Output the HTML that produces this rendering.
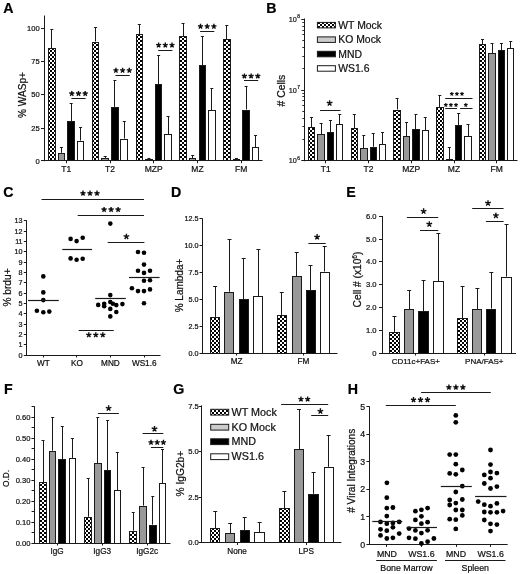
<!DOCTYPE html>
<html><head><meta charset="utf-8"><style>
html,body{margin:0;padding:0;background:#fff;}
svg{display:block;font-family:"Liberation Sans", sans-serif;will-change:transform;filter:blur(0.3px);}
</style></head><body>
<svg width="520" height="574" viewBox="0 0 520 574">
<defs>
<pattern id="chk" patternUnits="userSpaceOnUse" width="4" height="4">
<rect width="4" height="4" fill="#fff"/>
<rect width="2" height="2" fill="#000"/>
<rect x="2" y="2" width="2" height="2" fill="#000"/>
</pattern>
</defs>
<rect width="520" height="574" fill="#fff"/>
<text x="3.30" y="12.80" font-size="14.2" text-anchor="start" fill="#000" stroke="#000" stroke-width="0.22" font-weight="bold">A</text>
<line x1="44.50" y1="15.50" x2="44.50" y2="161.20" stroke="#1a1a1a" stroke-width="1"/>
<line x1="44.00" y1="160.50" x2="262.50" y2="160.50" stroke="#1a1a1a" stroke-width="1"/>
<line x1="41.00" y1="160.50" x2="44.50" y2="160.50" stroke="#1a1a1a" stroke-width="1"/>
<g transform="translate(39.80 163.60) scale(0.95 1)">
<text x="0.00" y="0.00" font-size="8.0" text-anchor="end" fill="#111" stroke="#111" stroke-width="0.22">0</text>
</g>
<line x1="41.00" y1="128.50" x2="44.50" y2="128.50" stroke="#1a1a1a" stroke-width="1"/>
<g transform="translate(39.80 130.90) scale(0.95 1)">
<text x="0.00" y="0.00" font-size="8.0" text-anchor="end" fill="#111" stroke="#111" stroke-width="0.22">25</text>
</g>
<line x1="41.00" y1="94.50" x2="44.50" y2="94.50" stroke="#1a1a1a" stroke-width="1"/>
<g transform="translate(39.80 97.40) scale(0.95 1)">
<text x="0.00" y="0.00" font-size="8.0" text-anchor="end" fill="#111" stroke="#111" stroke-width="0.22">50</text>
</g>
<line x1="41.00" y1="61.50" x2="44.50" y2="61.50" stroke="#1a1a1a" stroke-width="1"/>
<g transform="translate(39.80 63.90) scale(0.95 1)">
<text x="0.00" y="0.00" font-size="8.0" text-anchor="end" fill="#111" stroke="#111" stroke-width="0.22">75</text>
</g>
<line x1="41.00" y1="28.50" x2="44.50" y2="28.50" stroke="#1a1a1a" stroke-width="1"/>
<g transform="translate(39.80 31.10) scale(0.95 1)">
<text x="0.00" y="0.00" font-size="8.0" text-anchor="end" fill="#111" stroke="#111" stroke-width="0.22">100</text>
</g>
<text x="26.30" y="95.00" font-size="10.1" text-anchor="middle" fill="#111" stroke="#111" stroke-width="0.22" transform="rotate(-90 26.30 95.00)">% WASp+</text>
<line x1="66.50" y1="160.70" x2="66.50" y2="163.20" stroke="#1a1a1a" stroke-width="1"/>
<text x="66.25" y="172.10" font-size="8.5" text-anchor="middle" fill="#111" stroke="#111" stroke-width="0.22">T1</text>
<line x1="110.50" y1="160.70" x2="110.50" y2="163.20" stroke="#1a1a1a" stroke-width="1"/>
<text x="110.00" y="172.10" font-size="8.5" text-anchor="middle" fill="#111" stroke="#111" stroke-width="0.22">T2</text>
<line x1="153.50" y1="160.70" x2="153.50" y2="163.20" stroke="#1a1a1a" stroke-width="1"/>
<text x="153.75" y="172.10" font-size="8.5" text-anchor="middle" fill="#111" stroke="#111" stroke-width="0.22">MZP</text>
<line x1="197.50" y1="160.70" x2="197.50" y2="163.20" stroke="#1a1a1a" stroke-width="1"/>
<text x="197.50" y="172.10" font-size="8.5" text-anchor="middle" fill="#111" stroke="#111" stroke-width="0.22">MZ</text>
<line x1="241.50" y1="160.70" x2="241.50" y2="163.20" stroke="#1a1a1a" stroke-width="1"/>
<text x="241.25" y="172.10" font-size="8.5" text-anchor="middle" fill="#111" stroke="#111" stroke-width="0.22">FM</text>
<rect x="48.50" y="48.50" width="7.00" height="112.00" fill="url(#chk)" stroke="#1a1a1a" stroke-width="1"/>
<line x1="51.50" y1="48.00" x2="51.50" y2="29.50" stroke="#1a1a1a" stroke-width="1"/>
<line x1="50.30" y1="29.50" x2="53.30" y2="29.50" stroke="#1a1a1a" stroke-width="1"/>
<rect x="58.50" y="153.50" width="6.00" height="7.00" fill="#999999" stroke="#1a1a1a" stroke-width="1"/>
<line x1="61.50" y1="152.80" x2="61.50" y2="147.30" stroke="#1a1a1a" stroke-width="1"/>
<line x1="59.95" y1="147.50" x2="62.95" y2="147.50" stroke="#1a1a1a" stroke-width="1"/>
<rect x="67.50" y="121.50" width="7.00" height="39.00" fill="#000000" stroke="#1a1a1a" stroke-width="1"/>
<line x1="71.50" y1="121.40" x2="71.50" y2="103.30" stroke="#1a1a1a" stroke-width="1"/>
<line x1="69.65" y1="103.50" x2="72.65" y2="103.50" stroke="#1a1a1a" stroke-width="1"/>
<rect x="77.50" y="141.50" width="6.00" height="19.00" fill="#ffffff" stroke="#1a1a1a" stroke-width="1"/>
<line x1="80.50" y1="140.60" x2="80.50" y2="127.20" stroke="#1a1a1a" stroke-width="1"/>
<line x1="79.05" y1="127.50" x2="82.05" y2="127.50" stroke="#1a1a1a" stroke-width="1"/>
<rect x="92.50" y="42.50" width="6.00" height="118.00" fill="url(#chk)" stroke="#1a1a1a" stroke-width="1"/>
<line x1="95.50" y1="41.50" x2="95.50" y2="27.50" stroke="#1a1a1a" stroke-width="1"/>
<line x1="94.05" y1="27.50" x2="97.05" y2="27.50" stroke="#1a1a1a" stroke-width="1"/>
<rect x="101.50" y="158.50" width="7.00" height="2.00" fill="#999999" stroke="#1a1a1a" stroke-width="1"/>
<line x1="105.50" y1="158.20" x2="105.50" y2="156.10" stroke="#1a1a1a" stroke-width="1"/>
<line x1="103.70" y1="156.50" x2="106.70" y2="156.50" stroke="#1a1a1a" stroke-width="1"/>
<rect x="111.50" y="107.50" width="7.00" height="53.00" fill="#000000" stroke="#1a1a1a" stroke-width="1"/>
<line x1="114.50" y1="106.90" x2="114.50" y2="80.90" stroke="#1a1a1a" stroke-width="1"/>
<line x1="113.40" y1="80.50" x2="116.40" y2="80.50" stroke="#1a1a1a" stroke-width="1"/>
<rect x="120.50" y="139.50" width="7.00" height="21.00" fill="#ffffff" stroke="#1a1a1a" stroke-width="1"/>
<line x1="124.50" y1="138.60" x2="124.50" y2="121.40" stroke="#1a1a1a" stroke-width="1"/>
<line x1="122.80" y1="121.50" x2="125.80" y2="121.50" stroke="#1a1a1a" stroke-width="1"/>
<rect x="136.50" y="34.50" width="6.00" height="126.00" fill="url(#chk)" stroke="#1a1a1a" stroke-width="1"/>
<line x1="139.50" y1="34.50" x2="139.50" y2="24.00" stroke="#1a1a1a" stroke-width="1"/>
<line x1="137.80" y1="24.50" x2="140.80" y2="24.50" stroke="#1a1a1a" stroke-width="1"/>
<rect x="145.50" y="159.50" width="7.00" height="1.00" fill="#999999" stroke="#1a1a1a" stroke-width="1"/>
<line x1="148.50" y1="159.40" x2="148.50" y2="158.30" stroke="#1a1a1a" stroke-width="1"/>
<line x1="147.45" y1="158.50" x2="150.45" y2="158.50" stroke="#1a1a1a" stroke-width="1"/>
<rect x="155.50" y="84.50" width="6.00" height="76.00" fill="#000000" stroke="#1a1a1a" stroke-width="1"/>
<line x1="158.50" y1="84.00" x2="158.50" y2="55.00" stroke="#1a1a1a" stroke-width="1"/>
<line x1="157.15" y1="55.50" x2="160.15" y2="55.50" stroke="#1a1a1a" stroke-width="1"/>
<rect x="164.50" y="134.50" width="7.00" height="26.00" fill="#ffffff" stroke="#1a1a1a" stroke-width="1"/>
<line x1="168.50" y1="134.00" x2="168.50" y2="116.00" stroke="#1a1a1a" stroke-width="1"/>
<line x1="166.55" y1="116.50" x2="169.55" y2="116.50" stroke="#1a1a1a" stroke-width="1"/>
<rect x="179.50" y="36.50" width="7.00" height="124.00" fill="url(#chk)" stroke="#1a1a1a" stroke-width="1"/>
<line x1="183.50" y1="36.00" x2="183.50" y2="23.00" stroke="#1a1a1a" stroke-width="1"/>
<line x1="181.55" y1="23.50" x2="184.55" y2="23.50" stroke="#1a1a1a" stroke-width="1"/>
<rect x="189.50" y="158.50" width="6.00" height="2.00" fill="#999999" stroke="#1a1a1a" stroke-width="1"/>
<line x1="192.50" y1="158.00" x2="192.50" y2="155.20" stroke="#1a1a1a" stroke-width="1"/>
<line x1="191.20" y1="155.50" x2="194.20" y2="155.50" stroke="#1a1a1a" stroke-width="1"/>
<rect x="199.50" y="65.50" width="6.00" height="95.00" fill="#000000" stroke="#1a1a1a" stroke-width="1"/>
<line x1="202.50" y1="65.00" x2="202.50" y2="36.00" stroke="#1a1a1a" stroke-width="1"/>
<line x1="200.90" y1="36.50" x2="203.90" y2="36.50" stroke="#1a1a1a" stroke-width="1"/>
<rect x="208.50" y="110.50" width="7.00" height="50.00" fill="#ffffff" stroke="#1a1a1a" stroke-width="1"/>
<line x1="211.50" y1="110.50" x2="211.50" y2="88.00" stroke="#1a1a1a" stroke-width="1"/>
<line x1="210.30" y1="88.50" x2="213.30" y2="88.50" stroke="#1a1a1a" stroke-width="1"/>
<rect x="223.50" y="39.50" width="7.00" height="121.00" fill="url(#chk)" stroke="#1a1a1a" stroke-width="1"/>
<line x1="226.50" y1="39.00" x2="226.50" y2="25.00" stroke="#1a1a1a" stroke-width="1"/>
<line x1="225.30" y1="25.50" x2="228.30" y2="25.50" stroke="#1a1a1a" stroke-width="1"/>
<rect x="233.50" y="159.50" width="6.00" height="1.00" fill="#999999" stroke="#1a1a1a" stroke-width="1"/>
<line x1="236.50" y1="159.40" x2="236.50" y2="158.30" stroke="#1a1a1a" stroke-width="1"/>
<line x1="234.95" y1="158.50" x2="237.95" y2="158.50" stroke="#1a1a1a" stroke-width="1"/>
<rect x="242.50" y="110.50" width="7.00" height="50.00" fill="#000000" stroke="#1a1a1a" stroke-width="1"/>
<line x1="246.50" y1="109.50" x2="246.50" y2="86.00" stroke="#1a1a1a" stroke-width="1"/>
<line x1="244.65" y1="86.50" x2="247.65" y2="86.50" stroke="#1a1a1a" stroke-width="1"/>
<rect x="252.50" y="147.50" width="6.00" height="13.00" fill="#ffffff" stroke="#1a1a1a" stroke-width="1"/>
<line x1="255.50" y1="147.00" x2="255.50" y2="135.00" stroke="#1a1a1a" stroke-width="1"/>
<line x1="254.05" y1="135.50" x2="257.05" y2="135.50" stroke="#1a1a1a" stroke-width="1"/>
<path d="M71.80 93.60L71.80 90.95M71.80 93.60L74.32 92.78M71.80 93.60L73.36 95.74M71.80 93.60L70.24 95.74M71.80 93.60L69.28 92.78" stroke="#111" stroke-width="1.4" fill="none"/>
<path d="M78.50 93.60L78.50 90.95M78.50 93.60L81.02 92.78M78.50 93.60L80.06 95.74M78.50 93.60L76.94 95.74M78.50 93.60L75.98 92.78" stroke="#111" stroke-width="1.4" fill="none"/>
<path d="M85.20 93.60L85.20 90.95M85.20 93.60L87.72 92.78M85.20 93.60L86.76 95.74M85.20 93.60L83.64 95.74M85.20 93.60L82.68 92.78" stroke="#111" stroke-width="1.4" fill="none"/>
<line x1="71.40" y1="98.50" x2="85.60" y2="98.50" stroke="#1a1a1a" stroke-width="1"/>
<path d="M115.90 70.40L115.90 67.75M115.90 70.40L118.42 69.58M115.90 70.40L117.46 72.54M115.90 70.40L114.34 72.54M115.90 70.40L113.38 69.58" stroke="#111" stroke-width="1.4" fill="none"/>
<path d="M122.60 70.40L122.60 67.75M122.60 70.40L125.12 69.58M122.60 70.40L124.16 72.54M122.60 70.40L121.04 72.54M122.60 70.40L120.08 69.58" stroke="#111" stroke-width="1.4" fill="none"/>
<path d="M129.30 70.40L129.30 67.75M129.30 70.40L131.82 69.58M129.30 70.40L130.86 72.54M129.30 70.40L127.74 72.54M129.30 70.40L126.78 69.58" stroke="#111" stroke-width="1.4" fill="none"/>
<line x1="115.50" y1="75.50" x2="129.70" y2="75.50" stroke="#1a1a1a" stroke-width="1"/>
<path d="M158.60 45.20L158.60 42.55M158.60 45.20L161.12 44.38M158.60 45.20L160.16 47.34M158.60 45.20L157.04 47.34M158.60 45.20L156.08 44.38" stroke="#111" stroke-width="1.4" fill="none"/>
<path d="M165.30 45.20L165.30 42.55M165.30 45.20L167.82 44.38M165.30 45.20L166.86 47.34M165.30 45.20L163.74 47.34M165.30 45.20L162.78 44.38" stroke="#111" stroke-width="1.4" fill="none"/>
<path d="M172.00 45.20L172.00 42.55M172.00 45.20L174.52 44.38M172.00 45.20L173.56 47.34M172.00 45.20L170.44 47.34M172.00 45.20L169.48 44.38" stroke="#111" stroke-width="1.4" fill="none"/>
<line x1="158.20" y1="50.50" x2="172.40" y2="50.50" stroke="#1a1a1a" stroke-width="1"/>
<path d="M200.50 26.50L200.50 23.85M200.50 26.50L203.02 25.68M200.50 26.50L202.06 28.64M200.50 26.50L198.94 28.64M200.50 26.50L197.98 25.68" stroke="#111" stroke-width="1.4" fill="none"/>
<path d="M207.20 26.50L207.20 23.85M207.20 26.50L209.72 25.68M207.20 26.50L208.76 28.64M207.20 26.50L205.64 28.64M207.20 26.50L204.68 25.68" stroke="#111" stroke-width="1.4" fill="none"/>
<path d="M213.90 26.50L213.90 23.85M213.90 26.50L216.42 25.68M213.90 26.50L215.46 28.64M213.90 26.50L212.34 28.64M213.90 26.50L211.38 25.68" stroke="#111" stroke-width="1.4" fill="none"/>
<line x1="200.10" y1="31.50" x2="214.30" y2="31.50" stroke="#1a1a1a" stroke-width="1"/>
<path d="M244.40 76.10L244.40 73.45M244.40 76.10L246.92 75.28M244.40 76.10L245.96 78.24M244.40 76.10L242.84 78.24M244.40 76.10L241.88 75.28" stroke="#111" stroke-width="1.4" fill="none"/>
<path d="M251.10 76.10L251.10 73.45M251.10 76.10L253.62 75.28M251.10 76.10L252.66 78.24M251.10 76.10L249.54 78.24M251.10 76.10L248.58 75.28" stroke="#111" stroke-width="1.4" fill="none"/>
<path d="M257.80 76.10L257.80 73.45M257.80 76.10L260.32 75.28M257.80 76.10L259.36 78.24M257.80 76.10L256.24 78.24M257.80 76.10L255.28 75.28" stroke="#111" stroke-width="1.4" fill="none"/>
<line x1="244.00" y1="80.50" x2="258.20" y2="80.50" stroke="#1a1a1a" stroke-width="1"/>
<text x="266.30" y="12.90" font-size="14.2" text-anchor="start" fill="#000" stroke="#000" stroke-width="0.22" font-weight="bold">B</text>
<line x1="304.50" y1="18.50" x2="304.50" y2="161.25" stroke="#1a1a1a" stroke-width="1"/>
<line x1="304.00" y1="160.50" x2="517.50" y2="160.50" stroke="#1a1a1a" stroke-width="1"/>
<line x1="301.30" y1="160.50" x2="304.50" y2="160.50" stroke="#1a1a1a" stroke-width="1"/>
<g transform="translate(296.90 163.45) scale(0.92 1)">
<text x="0.00" y="0.00" font-size="7.9" text-anchor="end" fill="#111" stroke="#111" stroke-width="0.22">10</text>
</g>
<text x="297.20" y="159.75" font-size="4.8" text-anchor="start" fill="#111" stroke="#111" stroke-width="0.22">6</text>
<line x1="301.30" y1="90.50" x2="304.50" y2="90.50" stroke="#1a1a1a" stroke-width="1"/>
<g transform="translate(296.90 92.70) scale(0.92 1)">
<text x="0.00" y="0.00" font-size="7.9" text-anchor="end" fill="#111" stroke="#111" stroke-width="0.22">10</text>
</g>
<text x="297.20" y="89.00" font-size="4.8" text-anchor="start" fill="#111" stroke="#111" stroke-width="0.22">7</text>
<line x1="301.30" y1="19.50" x2="304.50" y2="19.50" stroke="#1a1a1a" stroke-width="1"/>
<g transform="translate(296.90 21.95) scale(0.92 1)">
<text x="0.00" y="0.00" font-size="7.9" text-anchor="end" fill="#111" stroke="#111" stroke-width="0.22">10</text>
</g>
<text x="297.20" y="18.25" font-size="4.8" text-anchor="start" fill="#111" stroke="#111" stroke-width="0.22">8</text>
<line x1="302.30" y1="139.50" x2="304.50" y2="139.50" stroke="#1a1a1a" stroke-width="0.9"/>
<line x1="302.30" y1="126.50" x2="304.50" y2="126.50" stroke="#1a1a1a" stroke-width="0.9"/>
<line x1="302.30" y1="118.50" x2="304.50" y2="118.50" stroke="#1a1a1a" stroke-width="0.9"/>
<line x1="302.30" y1="111.50" x2="304.50" y2="111.50" stroke="#1a1a1a" stroke-width="0.9"/>
<line x1="302.30" y1="105.50" x2="304.50" y2="105.50" stroke="#1a1a1a" stroke-width="0.9"/>
<line x1="302.30" y1="100.50" x2="304.50" y2="100.50" stroke="#1a1a1a" stroke-width="0.9"/>
<line x1="302.30" y1="96.50" x2="304.50" y2="96.50" stroke="#1a1a1a" stroke-width="0.9"/>
<line x1="302.30" y1="93.50" x2="304.50" y2="93.50" stroke="#1a1a1a" stroke-width="0.9"/>
<line x1="302.30" y1="68.50" x2="304.50" y2="68.50" stroke="#1a1a1a" stroke-width="0.9"/>
<line x1="302.30" y1="56.50" x2="304.50" y2="56.50" stroke="#1a1a1a" stroke-width="0.9"/>
<line x1="302.30" y1="47.50" x2="304.50" y2="47.50" stroke="#1a1a1a" stroke-width="0.9"/>
<line x1="302.30" y1="40.50" x2="304.50" y2="40.50" stroke="#1a1a1a" stroke-width="0.9"/>
<line x1="302.30" y1="34.50" x2="304.50" y2="34.50" stroke="#1a1a1a" stroke-width="0.9"/>
<line x1="302.30" y1="30.50" x2="304.50" y2="30.50" stroke="#1a1a1a" stroke-width="0.9"/>
<line x1="302.30" y1="26.50" x2="304.50" y2="26.50" stroke="#1a1a1a" stroke-width="0.9"/>
<line x1="302.30" y1="22.50" x2="304.50" y2="22.50" stroke="#1a1a1a" stroke-width="0.9"/>
<text x="285.30" y="90.60" font-size="10.4" text-anchor="middle" fill="#111" stroke="#111" stroke-width="0.22" transform="rotate(-90 285.30 90.60)"># Cells</text>
<line x1="325.50" y1="160.75" x2="325.50" y2="163.25" stroke="#1a1a1a" stroke-width="1"/>
<text x="325.75" y="172.10" font-size="8.5" text-anchor="middle" fill="#111" stroke="#111" stroke-width="0.22">T1</text>
<line x1="368.50" y1="160.75" x2="368.50" y2="163.25" stroke="#1a1a1a" stroke-width="1"/>
<text x="368.50" y="172.10" font-size="8.5" text-anchor="middle" fill="#111" stroke="#111" stroke-width="0.22">T2</text>
<line x1="411.50" y1="160.75" x2="411.50" y2="163.25" stroke="#1a1a1a" stroke-width="1"/>
<text x="411.25" y="172.10" font-size="8.5" text-anchor="middle" fill="#111" stroke="#111" stroke-width="0.22">MZP</text>
<line x1="454.50" y1="160.75" x2="454.50" y2="163.25" stroke="#1a1a1a" stroke-width="1"/>
<text x="454.00" y="172.10" font-size="8.5" text-anchor="middle" fill="#111" stroke="#111" stroke-width="0.22">MZ</text>
<line x1="496.50" y1="160.75" x2="496.50" y2="163.25" stroke="#1a1a1a" stroke-width="1"/>
<text x="496.75" y="172.10" font-size="8.5" text-anchor="middle" fill="#111" stroke="#111" stroke-width="0.22">FM</text>
<rect x="308.50" y="127.50" width="6.00" height="33.00" fill="url(#chk)" stroke="#1a1a1a" stroke-width="1"/>
<line x1="311.50" y1="127.00" x2="311.50" y2="117.50" stroke="#1a1a1a" stroke-width="1"/>
<line x1="310.05" y1="117.50" x2="313.05" y2="117.50" stroke="#1a1a1a" stroke-width="1"/>
<rect x="317.50" y="134.50" width="7.00" height="26.00" fill="#999999" stroke="#1a1a1a" stroke-width="1"/>
<line x1="321.50" y1="134.00" x2="321.50" y2="123.00" stroke="#1a1a1a" stroke-width="1"/>
<line x1="319.55" y1="123.50" x2="322.55" y2="123.50" stroke="#1a1a1a" stroke-width="1"/>
<rect x="327.50" y="132.50" width="6.00" height="28.00" fill="#000000" stroke="#1a1a1a" stroke-width="1"/>
<line x1="330.50" y1="132.00" x2="330.50" y2="120.50" stroke="#1a1a1a" stroke-width="1"/>
<line x1="328.95" y1="120.50" x2="331.95" y2="120.50" stroke="#1a1a1a" stroke-width="1"/>
<rect x="336.50" y="124.50" width="6.00" height="36.00" fill="#ffffff" stroke="#1a1a1a" stroke-width="1"/>
<line x1="339.50" y1="124.00" x2="339.50" y2="114.00" stroke="#1a1a1a" stroke-width="1"/>
<line x1="338.25" y1="114.50" x2="341.25" y2="114.50" stroke="#1a1a1a" stroke-width="1"/>
<rect x="351.50" y="128.50" width="6.00" height="32.00" fill="url(#chk)" stroke="#1a1a1a" stroke-width="1"/>
<line x1="354.50" y1="128.00" x2="354.50" y2="114.00" stroke="#1a1a1a" stroke-width="1"/>
<line x1="352.80" y1="114.50" x2="355.80" y2="114.50" stroke="#1a1a1a" stroke-width="1"/>
<rect x="360.50" y="148.50" width="7.00" height="12.00" fill="#999999" stroke="#1a1a1a" stroke-width="1"/>
<line x1="363.50" y1="148.00" x2="363.50" y2="135.50" stroke="#1a1a1a" stroke-width="1"/>
<line x1="362.30" y1="135.50" x2="365.30" y2="135.50" stroke="#1a1a1a" stroke-width="1"/>
<rect x="370.50" y="147.50" width="6.00" height="13.00" fill="#000000" stroke="#1a1a1a" stroke-width="1"/>
<line x1="373.50" y1="146.75" x2="373.50" y2="133.00" stroke="#1a1a1a" stroke-width="1"/>
<line x1="371.70" y1="133.50" x2="374.70" y2="133.50" stroke="#1a1a1a" stroke-width="1"/>
<rect x="379.50" y="144.50" width="6.00" height="16.00" fill="#ffffff" stroke="#1a1a1a" stroke-width="1"/>
<line x1="382.50" y1="144.00" x2="382.50" y2="132.00" stroke="#1a1a1a" stroke-width="1"/>
<line x1="381.00" y1="132.50" x2="384.00" y2="132.50" stroke="#1a1a1a" stroke-width="1"/>
<rect x="393.50" y="110.50" width="7.00" height="50.00" fill="url(#chk)" stroke="#1a1a1a" stroke-width="1"/>
<line x1="397.50" y1="109.50" x2="397.50" y2="98.00" stroke="#1a1a1a" stroke-width="1"/>
<line x1="395.55" y1="98.50" x2="398.55" y2="98.50" stroke="#1a1a1a" stroke-width="1"/>
<rect x="403.50" y="136.50" width="6.00" height="24.00" fill="#999999" stroke="#1a1a1a" stroke-width="1"/>
<line x1="406.50" y1="136.00" x2="406.50" y2="122.50" stroke="#1a1a1a" stroke-width="1"/>
<line x1="405.05" y1="122.50" x2="408.05" y2="122.50" stroke="#1a1a1a" stroke-width="1"/>
<rect x="412.50" y="129.50" width="7.00" height="31.00" fill="#000000" stroke="#1a1a1a" stroke-width="1"/>
<line x1="415.50" y1="129.00" x2="415.50" y2="114.00" stroke="#1a1a1a" stroke-width="1"/>
<line x1="414.45" y1="114.50" x2="417.45" y2="114.50" stroke="#1a1a1a" stroke-width="1"/>
<rect x="422.50" y="130.50" width="6.00" height="30.00" fill="#ffffff" stroke="#1a1a1a" stroke-width="1"/>
<line x1="425.50" y1="130.50" x2="425.50" y2="117.50" stroke="#1a1a1a" stroke-width="1"/>
<line x1="423.75" y1="117.50" x2="426.75" y2="117.50" stroke="#1a1a1a" stroke-width="1"/>
<rect x="436.50" y="107.50" width="7.00" height="53.00" fill="url(#chk)" stroke="#1a1a1a" stroke-width="1"/>
<line x1="439.50" y1="107.00" x2="439.50" y2="95.50" stroke="#1a1a1a" stroke-width="1"/>
<line x1="438.30" y1="95.50" x2="441.30" y2="95.50" stroke="#1a1a1a" stroke-width="1"/>
<rect x="446.50" y="159.50" width="6.00" height="1.00" fill="#999999" stroke="#1a1a1a" stroke-width="1"/>
<line x1="449.50" y1="159.00" x2="449.50" y2="147.30" stroke="#1a1a1a" stroke-width="1"/>
<line x1="447.80" y1="147.50" x2="450.80" y2="147.50" stroke="#1a1a1a" stroke-width="1"/>
<rect x="455.50" y="125.50" width="6.00" height="35.00" fill="#000000" stroke="#1a1a1a" stroke-width="1"/>
<line x1="458.50" y1="125.00" x2="458.50" y2="113.00" stroke="#1a1a1a" stroke-width="1"/>
<line x1="457.20" y1="113.50" x2="460.20" y2="113.50" stroke="#1a1a1a" stroke-width="1"/>
<rect x="464.50" y="136.50" width="7.00" height="24.00" fill="#ffffff" stroke="#1a1a1a" stroke-width="1"/>
<line x1="468.50" y1="136.00" x2="468.50" y2="124.50" stroke="#1a1a1a" stroke-width="1"/>
<line x1="466.50" y1="124.50" x2="469.50" y2="124.50" stroke="#1a1a1a" stroke-width="1"/>
<rect x="479.50" y="44.50" width="6.00" height="116.00" fill="url(#chk)" stroke="#1a1a1a" stroke-width="1"/>
<line x1="482.50" y1="44.00" x2="482.50" y2="39.00" stroke="#1a1a1a" stroke-width="1"/>
<line x1="481.05" y1="39.50" x2="484.05" y2="39.50" stroke="#1a1a1a" stroke-width="1"/>
<rect x="488.50" y="53.50" width="7.00" height="107.00" fill="#999999" stroke="#1a1a1a" stroke-width="1"/>
<line x1="492.50" y1="53.00" x2="492.50" y2="43.00" stroke="#1a1a1a" stroke-width="1"/>
<line x1="490.55" y1="43.50" x2="493.55" y2="43.50" stroke="#1a1a1a" stroke-width="1"/>
<rect x="498.50" y="50.50" width="6.00" height="110.00" fill="#000000" stroke="#1a1a1a" stroke-width="1"/>
<line x1="501.50" y1="50.00" x2="501.50" y2="43.00" stroke="#1a1a1a" stroke-width="1"/>
<line x1="499.95" y1="43.50" x2="502.95" y2="43.50" stroke="#1a1a1a" stroke-width="1"/>
<rect x="507.50" y="48.50" width="6.00" height="112.00" fill="#ffffff" stroke="#1a1a1a" stroke-width="1"/>
<line x1="510.50" y1="48.00" x2="510.50" y2="41.00" stroke="#1a1a1a" stroke-width="1"/>
<line x1="509.25" y1="41.50" x2="512.25" y2="41.50" stroke="#1a1a1a" stroke-width="1"/>
<rect x="317.40" y="22.40" width="18.00" height="5.50" fill="url(#chk)" stroke="#1a1a1a" stroke-width="1"/>
<text x="338.30" y="28.85" font-size="10.4" text-anchor="start" fill="#111" stroke="#111" stroke-width="0.22">WT Mock</text>
<rect x="317.40" y="36.90" width="18.00" height="5.50" fill="#cccccc" stroke="#1a1a1a" stroke-width="1"/>
<text x="338.30" y="43.35" font-size="10.4" text-anchor="start" fill="#111" stroke="#111" stroke-width="0.22">KO Mock</text>
<rect x="317.40" y="51.30" width="18.00" height="5.50" fill="#000000" stroke="#1a1a1a" stroke-width="1"/>
<text x="338.30" y="57.75" font-size="10.4" text-anchor="start" fill="#111" stroke="#111" stroke-width="0.22">MND</text>
<rect x="317.40" y="65.70" width="18.00" height="5.50" fill="#ffffff" stroke="#1a1a1a" stroke-width="1"/>
<text x="338.30" y="72.15" font-size="10.4" text-anchor="start" fill="#111" stroke="#111" stroke-width="0.22">WS1.6</text>
<path d="M329.60 103.20L329.60 100.25M329.60 103.20L332.41 102.29M329.60 103.20L331.33 105.59M329.60 103.20L327.87 105.59M329.60 103.20L326.79 102.29" stroke="#111" stroke-width="1.4" fill="none"/>
<line x1="320.00" y1="110.50" x2="340.50" y2="110.50" stroke="#1a1a1a" stroke-width="1"/>
<path d="M451.80 93.90L451.80 91.95M451.80 93.90L453.65 93.30M451.80 93.90L452.95 95.48M451.80 93.90L450.65 95.48M451.80 93.90L449.95 93.30" stroke="#111" stroke-width="1.15" fill="none"/>
<path d="M456.90 93.90L456.90 91.95M456.90 93.90L458.75 93.30M456.90 93.90L458.05 95.48M456.90 93.90L455.75 95.48M456.90 93.90L455.05 93.30" stroke="#111" stroke-width="1.15" fill="none"/>
<path d="M462.00 93.90L462.00 91.95M462.00 93.90L463.85 93.30M462.00 93.90L463.15 95.48M462.00 93.90L460.85 95.48M462.00 93.90L460.15 93.30" stroke="#111" stroke-width="1.15" fill="none"/>
<line x1="445.20" y1="98.50" x2="472.50" y2="98.50" stroke="#1a1a1a" stroke-width="1"/>
<path d="M445.80 105.00L445.80 103.05M445.80 105.00L447.65 104.40M445.80 105.00L446.95 106.58M445.80 105.00L444.65 106.58M445.80 105.00L443.95 104.40" stroke="#111" stroke-width="1.15" fill="none"/>
<path d="M450.90 105.00L450.90 103.05M450.90 105.00L452.75 104.40M450.90 105.00L452.05 106.58M450.90 105.00L449.75 106.58M450.90 105.00L449.05 104.40" stroke="#111" stroke-width="1.15" fill="none"/>
<path d="M456.00 105.00L456.00 103.05M456.00 105.00L457.85 104.40M456.00 105.00L457.15 106.58M456.00 105.00L454.85 106.58M456.00 105.00L454.15 104.40" stroke="#111" stroke-width="1.15" fill="none"/>
<line x1="445.20" y1="108.50" x2="457.00" y2="108.50" stroke="#1a1a1a" stroke-width="1"/>
<path d="M465.80 105.00L465.80 103.05M465.80 105.00L467.65 104.40M465.80 105.00L466.95 106.58M465.80 105.00L464.65 106.58M465.80 105.00L463.95 104.40" stroke="#111" stroke-width="1.15" fill="none"/>
<line x1="460.10" y1="108.50" x2="472.50" y2="108.50" stroke="#1a1a1a" stroke-width="1"/>
<text x="3.30" y="197.30" font-size="14.2" text-anchor="start" fill="#000" stroke="#000" stroke-width="0.22" font-weight="bold">C</text>
<line x1="26.50" y1="220.80" x2="26.50" y2="355.50" stroke="#1a1a1a" stroke-width="1"/>
<line x1="26.30" y1="355.50" x2="160.50" y2="355.50" stroke="#1a1a1a" stroke-width="1"/>
<line x1="23.80" y1="355.50" x2="26.80" y2="355.50" stroke="#1a1a1a" stroke-width="1"/>
<text x="22.60" y="357.50" font-size="7.2" text-anchor="end" fill="#111" stroke="#111" stroke-width="0.22">0</text>
<line x1="23.80" y1="344.50" x2="26.80" y2="344.50" stroke="#1a1a1a" stroke-width="1"/>
<text x="22.60" y="347.18" font-size="7.2" text-anchor="end" fill="#111" stroke="#111" stroke-width="0.22">1</text>
<line x1="23.80" y1="334.50" x2="26.80" y2="334.50" stroke="#1a1a1a" stroke-width="1"/>
<text x="22.60" y="336.86" font-size="7.2" text-anchor="end" fill="#111" stroke="#111" stroke-width="0.22">2</text>
<line x1="23.80" y1="324.50" x2="26.80" y2="324.50" stroke="#1a1a1a" stroke-width="1"/>
<text x="22.60" y="326.54" font-size="7.2" text-anchor="end" fill="#111" stroke="#111" stroke-width="0.22">3</text>
<line x1="23.80" y1="313.50" x2="26.80" y2="313.50" stroke="#1a1a1a" stroke-width="1"/>
<text x="22.60" y="316.22" font-size="7.2" text-anchor="end" fill="#111" stroke="#111" stroke-width="0.22">4</text>
<line x1="23.80" y1="303.50" x2="26.80" y2="303.50" stroke="#1a1a1a" stroke-width="1"/>
<text x="22.60" y="305.90" font-size="7.2" text-anchor="end" fill="#111" stroke="#111" stroke-width="0.22">5</text>
<line x1="23.80" y1="293.50" x2="26.80" y2="293.50" stroke="#1a1a1a" stroke-width="1"/>
<text x="22.60" y="295.58" font-size="7.2" text-anchor="end" fill="#111" stroke="#111" stroke-width="0.22">6</text>
<line x1="23.80" y1="282.50" x2="26.80" y2="282.50" stroke="#1a1a1a" stroke-width="1"/>
<text x="22.60" y="285.26" font-size="7.2" text-anchor="end" fill="#111" stroke="#111" stroke-width="0.22">7</text>
<line x1="23.80" y1="272.50" x2="26.80" y2="272.50" stroke="#1a1a1a" stroke-width="1"/>
<text x="22.60" y="274.94" font-size="7.2" text-anchor="end" fill="#111" stroke="#111" stroke-width="0.22">8</text>
<line x1="23.80" y1="262.50" x2="26.80" y2="262.50" stroke="#1a1a1a" stroke-width="1"/>
<text x="22.60" y="264.62" font-size="7.2" text-anchor="end" fill="#111" stroke="#111" stroke-width="0.22">9</text>
<line x1="23.80" y1="251.50" x2="26.80" y2="251.50" stroke="#1a1a1a" stroke-width="1"/>
<text x="22.60" y="254.30" font-size="7.2" text-anchor="end" fill="#111" stroke="#111" stroke-width="0.22">10</text>
<line x1="23.80" y1="241.50" x2="26.80" y2="241.50" stroke="#1a1a1a" stroke-width="1"/>
<text x="22.60" y="243.98" font-size="7.2" text-anchor="end" fill="#111" stroke="#111" stroke-width="0.22">11</text>
<line x1="23.80" y1="231.50" x2="26.80" y2="231.50" stroke="#1a1a1a" stroke-width="1"/>
<text x="22.60" y="233.66" font-size="7.2" text-anchor="end" fill="#111" stroke="#111" stroke-width="0.22">12</text>
<line x1="23.80" y1="220.50" x2="26.80" y2="220.50" stroke="#1a1a1a" stroke-width="1"/>
<text x="22.60" y="223.34" font-size="7.2" text-anchor="end" fill="#111" stroke="#111" stroke-width="0.22">13</text>
<text x="11.20" y="287.50" font-size="10.2" text-anchor="middle" fill="#111" stroke="#111" stroke-width="0.22" transform="rotate(-90 11.20 287.50)">% brdu+</text>
<line x1="43.50" y1="355.00" x2="43.50" y2="357.50" stroke="#1a1a1a" stroke-width="1"/>
<text x="43.30" y="366.20" font-size="8.2" text-anchor="middle" fill="#111" stroke="#111" stroke-width="0.22">WT</text>
<line x1="76.50" y1="355.00" x2="76.50" y2="357.50" stroke="#1a1a1a" stroke-width="1"/>
<text x="76.90" y="366.20" font-size="8.2" text-anchor="middle" fill="#111" stroke="#111" stroke-width="0.22">KO</text>
<line x1="110.50" y1="355.00" x2="110.50" y2="357.50" stroke="#1a1a1a" stroke-width="1"/>
<text x="110.40" y="366.20" font-size="8.2" text-anchor="middle" fill="#111" stroke="#111" stroke-width="0.22">MND</text>
<line x1="144.50" y1="355.00" x2="144.50" y2="357.50" stroke="#1a1a1a" stroke-width="1"/>
<text x="144.20" y="366.20" font-size="8.2" text-anchor="middle" fill="#111" stroke="#111" stroke-width="0.22">WS1.6</text>
<circle cx="43.30" cy="276.40" r="2.3" fill="#000"/>
<circle cx="43.30" cy="292.40" r="2.3" fill="#000"/>
<circle cx="43.30" cy="300.10" r="2.3" fill="#000"/>
<circle cx="36.90" cy="310.70" r="2.3" fill="#000"/>
<circle cx="43.30" cy="312.20" r="2.3" fill="#000"/>
<circle cx="49.30" cy="311.60" r="2.3" fill="#000"/>
<circle cx="70.60" cy="238.90" r="2.3" fill="#000"/>
<circle cx="76.60" cy="241.10" r="2.3" fill="#000"/>
<circle cx="82.70" cy="237.70" r="2.3" fill="#000"/>
<circle cx="70.60" cy="258.40" r="2.3" fill="#000"/>
<circle cx="76.60" cy="259.70" r="2.3" fill="#000"/>
<circle cx="82.70" cy="258.80" r="2.3" fill="#000"/>
<circle cx="110.30" cy="223.60" r="2.3" fill="#000"/>
<circle cx="110.30" cy="295.10" r="2.3" fill="#000"/>
<circle cx="98.20" cy="304.90" r="2.3" fill="#000"/>
<circle cx="104.20" cy="303.70" r="2.3" fill="#000"/>
<circle cx="104.20" cy="306.30" r="2.3" fill="#000"/>
<circle cx="110.30" cy="302.00" r="2.3" fill="#000"/>
<circle cx="112.90" cy="303.70" r="2.3" fill="#000"/>
<circle cx="116.30" cy="305.10" r="2.3" fill="#000"/>
<circle cx="122.40" cy="304.10" r="2.3" fill="#000"/>
<circle cx="110.30" cy="308.90" r="2.3" fill="#000"/>
<circle cx="116.30" cy="312.00" r="2.3" fill="#000"/>
<circle cx="110.30" cy="316.40" r="2.3" fill="#000"/>
<circle cx="138.00" cy="252.00" r="2.3" fill="#000"/>
<circle cx="144.00" cy="252.80" r="2.3" fill="#000"/>
<circle cx="144.00" cy="264.60" r="2.3" fill="#000"/>
<circle cx="138.00" cy="270.70" r="2.3" fill="#000"/>
<circle cx="144.00" cy="272.90" r="2.3" fill="#000"/>
<circle cx="150.00" cy="270.70" r="2.3" fill="#000"/>
<circle cx="144.00" cy="280.70" r="2.3" fill="#000"/>
<circle cx="150.00" cy="280.20" r="2.3" fill="#000"/>
<circle cx="131.90" cy="288.20" r="2.3" fill="#000"/>
<circle cx="138.00" cy="291.10" r="2.3" fill="#000"/>
<circle cx="144.00" cy="291.10" r="2.3" fill="#000"/>
<circle cx="150.00" cy="289.40" r="2.3" fill="#000"/>
<circle cx="144.00" cy="303.20" r="2.3" fill="#000"/>
<line x1="28.00" y1="300.50" x2="58.80" y2="300.50" stroke="#1a1a1a" stroke-width="1.2"/>
<line x1="62.30" y1="249.50" x2="92.10" y2="249.50" stroke="#1a1a1a" stroke-width="1.2"/>
<line x1="95.20" y1="298.50" x2="125.80" y2="298.50" stroke="#1a1a1a" stroke-width="1.2"/>
<line x1="129.00" y1="277.50" x2="159.60" y2="277.50" stroke="#1a1a1a" stroke-width="1.2"/>
<path d="M83.00 193.30L83.00 190.60M83.00 193.30L85.57 192.47M83.00 193.30L84.59 195.48M83.00 193.30L81.41 195.48M83.00 193.30L80.43 192.47" stroke="#111" stroke-width="1.4" fill="none"/>
<path d="M90.00 193.30L90.00 190.60M90.00 193.30L92.57 192.47M90.00 193.30L91.59 195.48M90.00 193.30L88.41 195.48M90.00 193.30L87.43 192.47" stroke="#111" stroke-width="1.4" fill="none"/>
<path d="M97.00 193.30L97.00 190.60M97.00 193.30L99.57 192.47M97.00 193.30L98.59 195.48M97.00 193.30L95.41 195.48M97.00 193.30L94.43 192.47" stroke="#111" stroke-width="1.4" fill="none"/>
<line x1="41.50" y1="199.50" x2="144.00" y2="199.50" stroke="#1a1a1a" stroke-width="1"/>
<path d="M104.10 209.60L104.10 206.90M104.10 209.60L106.67 208.77M104.10 209.60L105.69 211.78M104.10 209.60L102.51 211.78M104.10 209.60L101.53 208.77" stroke="#111" stroke-width="1.4" fill="none"/>
<path d="M111.10 209.60L111.10 206.90M111.10 209.60L113.67 208.77M111.10 209.60L112.69 211.78M111.10 209.60L109.51 211.78M111.10 209.60L108.53 208.77" stroke="#111" stroke-width="1.4" fill="none"/>
<path d="M118.10 209.60L118.10 206.90M118.10 209.60L120.67 208.77M118.10 209.60L119.69 211.78M118.10 209.60L116.51 211.78M118.10 209.60L115.53 208.77" stroke="#111" stroke-width="1.4" fill="none"/>
<line x1="77.70" y1="215.50" x2="144.00" y2="215.50" stroke="#1a1a1a" stroke-width="1"/>
<path d="M126.40 236.60L126.40 233.65M126.40 236.60L129.21 235.69M126.40 236.60L128.13 238.99M126.40 236.60L124.67 238.99M126.40 236.60L123.59 235.69" stroke="#111" stroke-width="1.4" fill="none"/>
<line x1="107.70" y1="242.50" x2="144.40" y2="242.50" stroke="#1a1a1a" stroke-width="1"/>
<path d="M88.80 335.00L88.80 332.30M88.80 335.00L91.37 334.17M88.80 335.00L90.39 337.18M88.80 335.00L87.21 337.18M88.80 335.00L86.23 334.17" stroke="#111" stroke-width="1.4" fill="none"/>
<path d="M95.80 335.00L95.80 332.30M95.80 335.00L98.37 334.17M95.80 335.00L97.39 337.18M95.80 335.00L94.21 337.18M95.80 335.00L93.23 334.17" stroke="#111" stroke-width="1.4" fill="none"/>
<path d="M102.80 335.00L102.80 332.30M102.80 335.00L105.37 334.17M102.80 335.00L104.39 337.18M102.80 335.00L101.21 337.18M102.80 335.00L100.23 334.17" stroke="#111" stroke-width="1.4" fill="none"/>
<line x1="78.70" y1="330.50" x2="113.80" y2="330.50" stroke="#1a1a1a" stroke-width="1"/>
<text x="171.00" y="197.10" font-size="14.2" text-anchor="start" fill="#000" stroke="#000" stroke-width="0.22" font-weight="bold">D</text>
<line x1="202.50" y1="218.40" x2="202.50" y2="353.50" stroke="#1a1a1a" stroke-width="1"/>
<line x1="202.00" y1="353.50" x2="337.50" y2="353.50" stroke="#1a1a1a" stroke-width="1"/>
<line x1="199.50" y1="353.50" x2="202.50" y2="353.50" stroke="#1a1a1a" stroke-width="1"/>
<text x="198.60" y="355.50" font-size="7.2" text-anchor="end" fill="#111" stroke="#111" stroke-width="0.22">0.0</text>
<line x1="199.50" y1="326.50" x2="202.50" y2="326.50" stroke="#1a1a1a" stroke-width="1"/>
<text x="198.60" y="328.62" font-size="7.2" text-anchor="end" fill="#111" stroke="#111" stroke-width="0.22">2.5</text>
<line x1="199.50" y1="299.50" x2="202.50" y2="299.50" stroke="#1a1a1a" stroke-width="1"/>
<text x="198.60" y="301.75" font-size="7.2" text-anchor="end" fill="#111" stroke="#111" stroke-width="0.22">5.0</text>
<line x1="199.50" y1="272.50" x2="202.50" y2="272.50" stroke="#1a1a1a" stroke-width="1"/>
<text x="198.60" y="274.88" font-size="7.2" text-anchor="end" fill="#111" stroke="#111" stroke-width="0.22">7.5</text>
<line x1="199.50" y1="245.50" x2="202.50" y2="245.50" stroke="#1a1a1a" stroke-width="1"/>
<text x="198.60" y="248.00" font-size="7.2" text-anchor="end" fill="#111" stroke="#111" stroke-width="0.22">10.0</text>
<line x1="199.50" y1="218.50" x2="202.50" y2="218.50" stroke="#1a1a1a" stroke-width="1"/>
<text x="198.60" y="221.12" font-size="7.2" text-anchor="end" fill="#111" stroke="#111" stroke-width="0.22">12.5</text>
<text x="183.00" y="285.50" font-size="10.0" text-anchor="middle" fill="#111" stroke="#111" stroke-width="0.22" transform="rotate(-90 183.00 285.50)">% Lambda+</text>
<line x1="236.50" y1="353.00" x2="236.50" y2="355.50" stroke="#1a1a1a" stroke-width="1"/>
<text x="236.60" y="364.00" font-size="8.2" text-anchor="middle" fill="#111" stroke="#111" stroke-width="0.22">MZ</text>
<line x1="303.50" y1="353.00" x2="303.50" y2="355.50" stroke="#1a1a1a" stroke-width="1"/>
<text x="303.30" y="364.00" font-size="8.2" text-anchor="middle" fill="#111" stroke="#111" stroke-width="0.22">FM</text>
<rect x="210.50" y="317.50" width="9.00" height="36.00" fill="url(#chk)" stroke="#1a1a1a" stroke-width="1"/>
<line x1="215.50" y1="316.88" x2="215.50" y2="286.35" stroke="#1a1a1a" stroke-width="1"/>
<line x1="213.10" y1="286.50" x2="217.10" y2="286.50" stroke="#1a1a1a" stroke-width="1"/>
<rect x="224.50" y="292.50" width="9.00" height="61.00" fill="#999999" stroke="#1a1a1a" stroke-width="1"/>
<line x1="229.50" y1="291.73" x2="229.50" y2="239.05" stroke="#1a1a1a" stroke-width="1"/>
<line x1="227.50" y1="239.50" x2="231.50" y2="239.50" stroke="#1a1a1a" stroke-width="1"/>
<rect x="239.50" y="299.50" width="9.00" height="54.00" fill="#000000" stroke="#1a1a1a" stroke-width="1"/>
<line x1="243.50" y1="299.25" x2="243.50" y2="258.94" stroke="#1a1a1a" stroke-width="1"/>
<line x1="241.70" y1="258.50" x2="245.70" y2="258.50" stroke="#1a1a1a" stroke-width="1"/>
<rect x="253.50" y="296.50" width="9.00" height="57.00" fill="#ffffff" stroke="#1a1a1a" stroke-width="1"/>
<line x1="258.50" y1="296.35" x2="258.50" y2="249.80" stroke="#1a1a1a" stroke-width="1"/>
<line x1="256.40" y1="249.50" x2="260.40" y2="249.50" stroke="#1a1a1a" stroke-width="1"/>
<rect x="277.50" y="315.50" width="9.00" height="38.00" fill="url(#chk)" stroke="#1a1a1a" stroke-width="1"/>
<line x1="281.50" y1="314.94" x2="281.50" y2="292.48" stroke="#1a1a1a" stroke-width="1"/>
<line x1="279.80" y1="292.50" x2="283.80" y2="292.50" stroke="#1a1a1a" stroke-width="1"/>
<rect x="292.50" y="276.50" width="9.00" height="77.00" fill="#999999" stroke="#1a1a1a" stroke-width="1"/>
<line x1="296.50" y1="276.25" x2="296.50" y2="252.81" stroke="#1a1a1a" stroke-width="1"/>
<line x1="294.70" y1="252.50" x2="298.70" y2="252.50" stroke="#1a1a1a" stroke-width="1"/>
<rect x="306.50" y="290.50" width="9.00" height="63.00" fill="#000000" stroke="#1a1a1a" stroke-width="1"/>
<line x1="310.50" y1="290.00" x2="310.50" y2="265.06" stroke="#1a1a1a" stroke-width="1"/>
<line x1="308.50" y1="265.50" x2="312.50" y2="265.50" stroke="#1a1a1a" stroke-width="1"/>
<rect x="320.50" y="272.50" width="9.00" height="81.00" fill="#ffffff" stroke="#1a1a1a" stroke-width="1"/>
<line x1="324.50" y1="271.51" x2="324.50" y2="246.57" stroke="#1a1a1a" stroke-width="1"/>
<line x1="322.70" y1="246.50" x2="326.70" y2="246.50" stroke="#1a1a1a" stroke-width="1"/>
<path d="M317.10 237.00L317.10 234.05M317.10 237.00L319.91 236.09M317.10 237.00L318.83 239.39M317.10 237.00L315.37 239.39M317.10 237.00L314.29 236.09" stroke="#111" stroke-width="1.4" fill="none"/>
<line x1="308.40" y1="243.50" x2="325.70" y2="243.50" stroke="#1a1a1a" stroke-width="1"/>
<text x="346.30" y="197.40" font-size="14.2" text-anchor="start" fill="#000" stroke="#000" stroke-width="0.22" font-weight="bold">E</text>
<line x1="382.50" y1="216.00" x2="382.50" y2="353.50" stroke="#1a1a1a" stroke-width="1"/>
<line x1="381.50" y1="353.50" x2="516.00" y2="353.50" stroke="#1a1a1a" stroke-width="1"/>
<line x1="379.00" y1="353.50" x2="382.00" y2="353.50" stroke="#1a1a1a" stroke-width="1"/>
<text x="376.60" y="355.60" font-size="7.6" text-anchor="end" fill="#111" stroke="#111" stroke-width="0.22">0</text>
<line x1="379.00" y1="330.50" x2="382.00" y2="330.50" stroke="#1a1a1a" stroke-width="1"/>
<text x="376.60" y="332.80" font-size="7.6" text-anchor="end" fill="#111" stroke="#111" stroke-width="0.22">1.0</text>
<line x1="379.00" y1="307.50" x2="382.00" y2="307.50" stroke="#1a1a1a" stroke-width="1"/>
<text x="376.60" y="310.00" font-size="7.6" text-anchor="end" fill="#111" stroke="#111" stroke-width="0.22">2.0</text>
<line x1="379.00" y1="284.50" x2="382.00" y2="284.50" stroke="#1a1a1a" stroke-width="1"/>
<text x="376.60" y="287.20" font-size="7.6" text-anchor="end" fill="#111" stroke="#111" stroke-width="0.22">3.0</text>
<line x1="379.00" y1="261.50" x2="382.00" y2="261.50" stroke="#1a1a1a" stroke-width="1"/>
<text x="376.60" y="264.40" font-size="7.6" text-anchor="end" fill="#111" stroke="#111" stroke-width="0.22">4.0</text>
<line x1="379.00" y1="239.50" x2="382.00" y2="239.50" stroke="#1a1a1a" stroke-width="1"/>
<text x="376.60" y="241.60" font-size="7.6" text-anchor="end" fill="#111" stroke="#111" stroke-width="0.22">5.0</text>
<line x1="379.00" y1="216.50" x2="382.00" y2="216.50" stroke="#1a1a1a" stroke-width="1"/>
<text x="376.60" y="218.80" font-size="7.6" text-anchor="end" fill="#111" stroke="#111" stroke-width="0.22">6.0</text>
<text x="360.8" y="279.5" font-size="10.2" text-anchor="middle" fill="#111" stroke="#111" stroke-width="0.22" transform="rotate(-90 360.8 279.5)">Cell # (x10<tspan font-size="6.5" dy="-3.5">6</tspan><tspan dy="3.5">)</tspan></text>
<line x1="415.50" y1="353.00" x2="415.50" y2="355.50" stroke="#1a1a1a" stroke-width="1"/>
<text x="415.80" y="363.60" font-size="8.0" text-anchor="middle" fill="#111" stroke="#111" stroke-width="0.22">CD11c+FAS+</text>
<line x1="484.50" y1="353.00" x2="484.50" y2="355.50" stroke="#1a1a1a" stroke-width="1"/>
<text x="484.30" y="363.60" font-size="8.0" text-anchor="middle" fill="#111" stroke="#111" stroke-width="0.22">PNA/FAS+</text>
<rect x="389.50" y="332.50" width="10.00" height="21.00" fill="url(#chk)" stroke="#1a1a1a" stroke-width="1"/>
<line x1="394.50" y1="331.90" x2="394.50" y2="316.90" stroke="#1a1a1a" stroke-width="1"/>
<line x1="392.45" y1="316.50" x2="396.45" y2="316.50" stroke="#1a1a1a" stroke-width="1"/>
<rect x="404.50" y="309.50" width="9.00" height="44.00" fill="#999999" stroke="#1a1a1a" stroke-width="1"/>
<line x1="409.50" y1="309.40" x2="409.50" y2="290.70" stroke="#1a1a1a" stroke-width="1"/>
<line x1="407.15" y1="290.50" x2="411.15" y2="290.50" stroke="#1a1a1a" stroke-width="1"/>
<rect x="418.50" y="311.50" width="10.00" height="42.00" fill="#000000" stroke="#1a1a1a" stroke-width="1"/>
<line x1="423.50" y1="311.10" x2="423.50" y2="280.30" stroke="#1a1a1a" stroke-width="1"/>
<line x1="421.55" y1="280.50" x2="425.55" y2="280.50" stroke="#1a1a1a" stroke-width="1"/>
<rect x="433.50" y="281.50" width="10.00" height="72.00" fill="#ffffff" stroke="#1a1a1a" stroke-width="1"/>
<line x1="438.50" y1="281.10" x2="438.50" y2="233.90" stroke="#1a1a1a" stroke-width="1"/>
<line x1="436.35" y1="233.50" x2="440.35" y2="233.50" stroke="#1a1a1a" stroke-width="1"/>
<rect x="457.50" y="318.50" width="10.00" height="35.00" fill="url(#chk)" stroke="#1a1a1a" stroke-width="1"/>
<line x1="462.50" y1="318.30" x2="462.50" y2="286.30" stroke="#1a1a1a" stroke-width="1"/>
<line x1="460.55" y1="286.50" x2="464.55" y2="286.50" stroke="#1a1a1a" stroke-width="1"/>
<rect x="472.50" y="309.50" width="9.00" height="44.00" fill="#999999" stroke="#1a1a1a" stroke-width="1"/>
<line x1="477.50" y1="309.00" x2="477.50" y2="288.40" stroke="#1a1a1a" stroke-width="1"/>
<line x1="475.35" y1="288.50" x2="479.35" y2="288.50" stroke="#1a1a1a" stroke-width="1"/>
<rect x="486.50" y="309.50" width="9.00" height="44.00" fill="#000000" stroke="#1a1a1a" stroke-width="1"/>
<line x1="491.50" y1="308.60" x2="491.50" y2="272.50" stroke="#1a1a1a" stroke-width="1"/>
<line x1="489.35" y1="272.50" x2="493.35" y2="272.50" stroke="#1a1a1a" stroke-width="1"/>
<rect x="501.50" y="277.50" width="10.00" height="76.00" fill="#ffffff" stroke="#1a1a1a" stroke-width="1"/>
<line x1="506.50" y1="276.60" x2="506.50" y2="224.70" stroke="#1a1a1a" stroke-width="1"/>
<line x1="504.55" y1="224.50" x2="508.55" y2="224.50" stroke="#1a1a1a" stroke-width="1"/>
<path d="M423.60 211.30L423.60 208.35M423.60 211.30L426.41 210.39M423.60 211.30L425.33 213.69M423.60 211.30L421.87 213.69M423.60 211.30L420.79 210.39" stroke="#111" stroke-width="1.4" fill="none"/>
<line x1="406.90" y1="217.50" x2="438.20" y2="217.50" stroke="#1a1a1a" stroke-width="1"/>
<path d="M429.30 224.20L429.30 221.25M429.30 224.20L432.11 223.29M429.30 224.20L431.03 226.59M429.30 224.20L427.57 226.59M429.30 224.20L426.49 223.29" stroke="#111" stroke-width="1.4" fill="none"/>
<line x1="420.00" y1="230.50" x2="438.20" y2="230.50" stroke="#1a1a1a" stroke-width="1"/>
<path d="M488.00 203.20L488.00 200.25M488.00 203.20L490.81 202.29M488.00 203.20L489.73 205.59M488.00 203.20L486.27 205.59M488.00 203.20L485.19 202.29" stroke="#111" stroke-width="1.4" fill="none"/>
<line x1="472.20" y1="208.50" x2="503.60" y2="208.50" stroke="#1a1a1a" stroke-width="1"/>
<path d="M495.90 215.60L495.90 212.65M495.90 215.60L498.71 214.69M495.90 215.60L497.63 217.99M495.90 215.60L494.17 217.99M495.90 215.60L493.09 214.69" stroke="#111" stroke-width="1.4" fill="none"/>
<line x1="485.90" y1="221.50" x2="503.60" y2="221.50" stroke="#1a1a1a" stroke-width="1"/>
<text x="4.00" y="394.40" font-size="14.2" text-anchor="start" fill="#000" stroke="#000" stroke-width="0.22" font-weight="bold">F</text>
<line x1="34.50" y1="406.30" x2="34.50" y2="543.50" stroke="#1a1a1a" stroke-width="1"/>
<line x1="34.10" y1="543.50" x2="170.50" y2="543.50" stroke="#1a1a1a" stroke-width="1"/>
<line x1="31.40" y1="543.50" x2="34.60" y2="543.50" stroke="#1a1a1a" stroke-width="1"/>
<g transform="translate(30.40 545.70) scale(0.96 1)">
<text x="0.00" y="0.00" font-size="7.9" text-anchor="end" fill="#111" stroke="#111" stroke-width="0.22">0.00</text>
</g>
<line x1="31.60" y1="532.50" x2="34.60" y2="532.50" stroke="#1a1a1a" stroke-width="1"/>
<line x1="31.40" y1="522.50" x2="34.60" y2="522.50" stroke="#1a1a1a" stroke-width="1"/>
<g transform="translate(30.40 524.70) scale(0.96 1)">
<text x="0.00" y="0.00" font-size="7.9" text-anchor="end" fill="#111" stroke="#111" stroke-width="0.22">0.10</text>
</g>
<line x1="31.60" y1="511.50" x2="34.60" y2="511.50" stroke="#1a1a1a" stroke-width="1"/>
<line x1="31.40" y1="501.50" x2="34.60" y2="501.50" stroke="#1a1a1a" stroke-width="1"/>
<g transform="translate(30.40 503.70) scale(0.96 1)">
<text x="0.00" y="0.00" font-size="7.9" text-anchor="end" fill="#111" stroke="#111" stroke-width="0.22">0.20</text>
</g>
<line x1="31.60" y1="490.50" x2="34.60" y2="490.50" stroke="#1a1a1a" stroke-width="1"/>
<line x1="31.40" y1="480.50" x2="34.60" y2="480.50" stroke="#1a1a1a" stroke-width="1"/>
<g transform="translate(30.40 482.70) scale(0.96 1)">
<text x="0.00" y="0.00" font-size="7.9" text-anchor="end" fill="#111" stroke="#111" stroke-width="0.22">0.30</text>
</g>
<line x1="31.60" y1="469.50" x2="34.60" y2="469.50" stroke="#1a1a1a" stroke-width="1"/>
<line x1="31.40" y1="459.50" x2="34.60" y2="459.50" stroke="#1a1a1a" stroke-width="1"/>
<g transform="translate(30.40 461.70) scale(0.96 1)">
<text x="0.00" y="0.00" font-size="7.9" text-anchor="end" fill="#111" stroke="#111" stroke-width="0.22">0.40</text>
</g>
<line x1="31.60" y1="448.50" x2="34.60" y2="448.50" stroke="#1a1a1a" stroke-width="1"/>
<line x1="31.40" y1="438.50" x2="34.60" y2="438.50" stroke="#1a1a1a" stroke-width="1"/>
<g transform="translate(30.40 440.70) scale(0.96 1)">
<text x="0.00" y="0.00" font-size="7.9" text-anchor="end" fill="#111" stroke="#111" stroke-width="0.22">0.50</text>
</g>
<line x1="31.60" y1="427.50" x2="34.60" y2="427.50" stroke="#1a1a1a" stroke-width="1"/>
<line x1="31.40" y1="417.50" x2="34.60" y2="417.50" stroke="#1a1a1a" stroke-width="1"/>
<g transform="translate(30.40 419.70) scale(0.96 1)">
<text x="0.00" y="0.00" font-size="7.9" text-anchor="end" fill="#111" stroke="#111" stroke-width="0.22">0.60</text>
</g>
<line x1="31.60" y1="406.50" x2="34.60" y2="406.50" stroke="#1a1a1a" stroke-width="1"/>
<text x="8.80" y="478.50" font-size="8.3" text-anchor="middle" fill="#111" stroke="#111" stroke-width="0.22" transform="rotate(-90 8.80 478.50)">O.D.</text>
<line x1="57.50" y1="543.00" x2="57.50" y2="545.50" stroke="#1a1a1a" stroke-width="1"/>
<text x="57.10" y="553.50" font-size="8.2" text-anchor="middle" fill="#111" stroke="#111" stroke-width="0.22">IgG</text>
<line x1="102.50" y1="543.00" x2="102.50" y2="545.50" stroke="#1a1a1a" stroke-width="1"/>
<text x="102.20" y="553.50" font-size="8.2" text-anchor="middle" fill="#111" stroke="#111" stroke-width="0.22">IgG3</text>
<line x1="147.50" y1="543.00" x2="147.50" y2="545.50" stroke="#1a1a1a" stroke-width="1"/>
<text x="147.20" y="553.50" font-size="8.2" text-anchor="middle" fill="#111" stroke="#111" stroke-width="0.22">IgG2c</text>
<rect x="39.50" y="482.50" width="7.00" height="61.00" fill="url(#chk)" stroke="#1a1a1a" stroke-width="1"/>
<line x1="43.50" y1="482.10" x2="43.50" y2="440.10" stroke="#1a1a1a" stroke-width="1"/>
<line x1="41.50" y1="440.50" x2="44.50" y2="440.50" stroke="#1a1a1a" stroke-width="1"/>
<rect x="49.50" y="451.50" width="6.00" height="92.00" fill="#999999" stroke="#1a1a1a" stroke-width="1"/>
<line x1="52.50" y1="450.60" x2="52.50" y2="417.00" stroke="#1a1a1a" stroke-width="1"/>
<line x1="51.20" y1="417.50" x2="54.20" y2="417.50" stroke="#1a1a1a" stroke-width="1"/>
<rect x="58.50" y="459.50" width="7.00" height="84.00" fill="#000000" stroke="#1a1a1a" stroke-width="1"/>
<line x1="62.50" y1="459.00" x2="62.50" y2="426.45" stroke="#1a1a1a" stroke-width="1"/>
<line x1="60.80" y1="426.50" x2="63.80" y2="426.50" stroke="#1a1a1a" stroke-width="1"/>
<rect x="69.50" y="458.50" width="6.00" height="85.00" fill="#ffffff" stroke="#1a1a1a" stroke-width="1"/>
<line x1="72.50" y1="457.95" x2="72.50" y2="438.00" stroke="#1a1a1a" stroke-width="1"/>
<line x1="70.90" y1="438.50" x2="73.90" y2="438.50" stroke="#1a1a1a" stroke-width="1"/>
<rect x="84.50" y="517.50" width="7.00" height="26.00" fill="url(#chk)" stroke="#1a1a1a" stroke-width="1"/>
<line x1="88.50" y1="516.75" x2="88.50" y2="478.95" stroke="#1a1a1a" stroke-width="1"/>
<line x1="86.70" y1="478.50" x2="89.70" y2="478.50" stroke="#1a1a1a" stroke-width="1"/>
<rect x="94.50" y="463.50" width="7.00" height="80.00" fill="#999999" stroke="#1a1a1a" stroke-width="1"/>
<line x1="97.50" y1="463.20" x2="97.50" y2="417.00" stroke="#1a1a1a" stroke-width="1"/>
<line x1="96.30" y1="417.50" x2="99.30" y2="417.50" stroke="#1a1a1a" stroke-width="1"/>
<rect x="104.50" y="470.50" width="6.00" height="73.00" fill="#000000" stroke="#1a1a1a" stroke-width="1"/>
<line x1="107.50" y1="470.34" x2="107.50" y2="420.15" stroke="#1a1a1a" stroke-width="1"/>
<line x1="106.10" y1="420.50" x2="109.10" y2="420.50" stroke="#1a1a1a" stroke-width="1"/>
<rect x="114.50" y="490.50" width="6.00" height="53.00" fill="#ffffff" stroke="#1a1a1a" stroke-width="1"/>
<line x1="117.50" y1="490.29" x2="117.50" y2="452.70" stroke="#1a1a1a" stroke-width="1"/>
<line x1="115.80" y1="452.50" x2="118.80" y2="452.50" stroke="#1a1a1a" stroke-width="1"/>
<rect x="129.50" y="531.50" width="7.00" height="12.00" fill="url(#chk)" stroke="#1a1a1a" stroke-width="1"/>
<line x1="133.50" y1="530.61" x2="133.50" y2="512.97" stroke="#1a1a1a" stroke-width="1"/>
<line x1="131.70" y1="512.50" x2="134.70" y2="512.50" stroke="#1a1a1a" stroke-width="1"/>
<rect x="139.50" y="506.50" width="7.00" height="37.00" fill="#999999" stroke="#1a1a1a" stroke-width="1"/>
<line x1="143.50" y1="505.62" x2="143.50" y2="467.40" stroke="#1a1a1a" stroke-width="1"/>
<line x1="141.60" y1="467.50" x2="144.60" y2="467.50" stroke="#1a1a1a" stroke-width="1"/>
<rect x="149.50" y="525.50" width="7.00" height="18.00" fill="#000000" stroke="#1a1a1a" stroke-width="1"/>
<line x1="152.50" y1="524.62" x2="152.50" y2="496.80" stroke="#1a1a1a" stroke-width="1"/>
<line x1="151.30" y1="496.50" x2="154.30" y2="496.50" stroke="#1a1a1a" stroke-width="1"/>
<rect x="159.50" y="483.50" width="6.00" height="60.00" fill="#ffffff" stroke="#1a1a1a" stroke-width="1"/>
<line x1="162.50" y1="483.36" x2="162.50" y2="449.55" stroke="#1a1a1a" stroke-width="1"/>
<line x1="161.00" y1="449.50" x2="164.00" y2="449.50" stroke="#1a1a1a" stroke-width="1"/>
<path d="M108.60 408.30L108.60 405.35M108.60 408.30L111.41 407.39M108.60 408.30L110.33 410.69M108.60 408.30L106.87 410.69M108.60 408.30L105.79 407.39" stroke="#111" stroke-width="1.4" fill="none"/>
<line x1="97.90" y1="413.50" x2="118.90" y2="413.50" stroke="#1a1a1a" stroke-width="1"/>
<path d="M154.50 428.90L154.50 425.95M154.50 428.90L157.31 427.99M154.50 428.90L156.23 431.29M154.50 428.90L152.77 431.29M154.50 428.90L151.69 427.99" stroke="#111" stroke-width="1.4" fill="none"/>
<line x1="142.60" y1="433.50" x2="163.30" y2="433.50" stroke="#1a1a1a" stroke-width="1"/>
<path d="M151.00 442.40L151.00 439.70M151.00 442.40L153.57 441.57M151.00 442.40L152.59 444.58M151.00 442.40L149.41 444.58M151.00 442.40L148.43 441.57" stroke="#111" stroke-width="1.4" fill="none"/>
<path d="M157.20 442.40L157.20 439.70M157.20 442.40L159.77 441.57M157.20 442.40L158.79 444.58M157.20 442.40L155.61 444.58M157.20 442.40L154.63 441.57" stroke="#111" stroke-width="1.4" fill="none"/>
<path d="M163.40 442.40L163.40 439.70M163.40 442.40L165.97 441.57M163.40 442.40L164.99 444.58M163.40 442.40L161.81 444.58M163.40 442.40L160.83 441.57" stroke="#111" stroke-width="1.4" fill="none"/>
<line x1="150.90" y1="447.50" x2="163.30" y2="447.50" stroke="#1a1a1a" stroke-width="1"/>
<text x="173.30" y="394.00" font-size="14.2" text-anchor="start" fill="#000" stroke="#000" stroke-width="0.22" font-weight="bold">G</text>
<line x1="201.50" y1="405.40" x2="201.50" y2="543.00" stroke="#1a1a1a" stroke-width="1"/>
<line x1="201.20" y1="542.50" x2="341.40" y2="542.50" stroke="#1a1a1a" stroke-width="1"/>
<line x1="198.70" y1="542.50" x2="201.70" y2="542.50" stroke="#1a1a1a" stroke-width="1"/>
<text x="198.80" y="545.10" font-size="7.6" text-anchor="end" fill="#111" stroke="#111" stroke-width="0.22">0.0</text>
<line x1="198.70" y1="497.50" x2="201.70" y2="497.50" stroke="#1a1a1a" stroke-width="1"/>
<text x="198.80" y="499.60" font-size="7.6" text-anchor="end" fill="#111" stroke="#111" stroke-width="0.22">2.5</text>
<line x1="198.70" y1="451.50" x2="201.70" y2="451.50" stroke="#1a1a1a" stroke-width="1"/>
<text x="198.80" y="454.10" font-size="7.6" text-anchor="end" fill="#111" stroke="#111" stroke-width="0.22">5.0</text>
<line x1="198.70" y1="406.50" x2="201.70" y2="406.50" stroke="#1a1a1a" stroke-width="1"/>
<text x="198.80" y="408.60" font-size="7.6" text-anchor="end" fill="#111" stroke="#111" stroke-width="0.22">7.5</text>
<text x="183.60" y="473.60" font-size="10.2" text-anchor="middle" fill="#111" stroke="#111" stroke-width="0.22" transform="rotate(-90 183.60 473.60)">% IgG2b+</text>
<line x1="237.50" y1="542.50" x2="237.50" y2="545.00" stroke="#1a1a1a" stroke-width="1"/>
<text x="237.10" y="553.80" font-size="8.2" text-anchor="middle" fill="#111" stroke="#111" stroke-width="0.22">None</text>
<line x1="306.50" y1="542.50" x2="306.50" y2="545.00" stroke="#1a1a1a" stroke-width="1"/>
<text x="306.30" y="553.80" font-size="8.2" text-anchor="middle" fill="#111" stroke="#111" stroke-width="0.22">LPS</text>
<rect x="210.50" y="528.50" width="9.00" height="14.00" fill="url(#chk)" stroke="#1a1a1a" stroke-width="1"/>
<line x1="215.50" y1="528.10" x2="215.50" y2="511.60" stroke="#1a1a1a" stroke-width="1"/>
<line x1="213.20" y1="511.50" x2="217.20" y2="511.50" stroke="#1a1a1a" stroke-width="1"/>
<rect x="225.50" y="533.50" width="9.00" height="9.00" fill="#999999" stroke="#1a1a1a" stroke-width="1"/>
<line x1="230.50" y1="533.30" x2="230.50" y2="523.20" stroke="#1a1a1a" stroke-width="1"/>
<line x1="228.10" y1="523.50" x2="232.10" y2="523.50" stroke="#1a1a1a" stroke-width="1"/>
<rect x="240.50" y="530.50" width="9.00" height="12.00" fill="#000000" stroke="#1a1a1a" stroke-width="1"/>
<line x1="244.50" y1="530.10" x2="244.50" y2="517.70" stroke="#1a1a1a" stroke-width="1"/>
<line x1="242.70" y1="517.50" x2="246.70" y2="517.50" stroke="#1a1a1a" stroke-width="1"/>
<rect x="254.50" y="532.50" width="10.00" height="10.00" fill="#ffffff" stroke="#1a1a1a" stroke-width="1"/>
<line x1="259.50" y1="532.20" x2="259.50" y2="522.50" stroke="#1a1a1a" stroke-width="1"/>
<line x1="257.60" y1="522.50" x2="261.60" y2="522.50" stroke="#1a1a1a" stroke-width="1"/>
<rect x="279.50" y="508.50" width="10.00" height="34.00" fill="url(#chk)" stroke="#1a1a1a" stroke-width="1"/>
<line x1="284.50" y1="508.40" x2="284.50" y2="491.40" stroke="#1a1a1a" stroke-width="1"/>
<line x1="282.40" y1="491.50" x2="286.40" y2="491.50" stroke="#1a1a1a" stroke-width="1"/>
<rect x="294.50" y="449.50" width="9.00" height="93.00" fill="#999999" stroke="#1a1a1a" stroke-width="1"/>
<line x1="299.50" y1="449.00" x2="299.50" y2="409.10" stroke="#1a1a1a" stroke-width="1"/>
<line x1="297.00" y1="409.50" x2="301.00" y2="409.50" stroke="#1a1a1a" stroke-width="1"/>
<rect x="308.50" y="494.50" width="10.00" height="48.00" fill="#000000" stroke="#1a1a1a" stroke-width="1"/>
<line x1="313.50" y1="493.80" x2="313.50" y2="472.40" stroke="#1a1a1a" stroke-width="1"/>
<line x1="311.60" y1="472.50" x2="315.60" y2="472.50" stroke="#1a1a1a" stroke-width="1"/>
<rect x="324.50" y="467.50" width="9.00" height="75.00" fill="#ffffff" stroke="#1a1a1a" stroke-width="1"/>
<line x1="328.50" y1="466.80" x2="328.50" y2="435.30" stroke="#1a1a1a" stroke-width="1"/>
<line x1="326.60" y1="435.50" x2="330.60" y2="435.50" stroke="#1a1a1a" stroke-width="1"/>
<rect x="210.70" y="409.30" width="18.00" height="5.80" fill="url(#chk)" stroke="#1a1a1a" stroke-width="1"/>
<text x="231.60" y="415.90" font-size="10.75" text-anchor="start" fill="#111" stroke="#111" stroke-width="0.22">WT Mock</text>
<rect x="210.70" y="424.30" width="18.00" height="5.80" fill="#cccccc" stroke="#1a1a1a" stroke-width="1"/>
<text x="231.60" y="430.90" font-size="10.75" text-anchor="start" fill="#111" stroke="#111" stroke-width="0.22">KO Mock</text>
<rect x="210.70" y="438.80" width="18.00" height="5.80" fill="#000000" stroke="#1a1a1a" stroke-width="1"/>
<text x="231.60" y="445.40" font-size="10.75" text-anchor="start" fill="#111" stroke="#111" stroke-width="0.22">MND</text>
<rect x="210.70" y="453.80" width="18.00" height="5.80" fill="#ffffff" stroke="#1a1a1a" stroke-width="1"/>
<text x="231.60" y="460.40" font-size="10.75" text-anchor="start" fill="#111" stroke="#111" stroke-width="0.22">WS1.6</text>
<path d="M300.95 399.20L300.95 396.50M300.95 399.20L303.52 398.37M300.95 399.20L302.54 401.38M300.95 399.20L299.36 401.38M300.95 399.20L298.38 398.37" stroke="#111" stroke-width="1.4" fill="none"/>
<path d="M307.65 399.20L307.65 396.50M307.65 399.20L310.22 398.37M307.65 399.20L309.24 401.38M307.65 399.20L306.06 401.38M307.65 399.20L305.08 398.37" stroke="#111" stroke-width="1.4" fill="none"/>
<line x1="281.10" y1="404.50" x2="328.20" y2="404.50" stroke="#1a1a1a" stroke-width="1"/>
<path d="M320.40 411.30L320.40 408.35M320.40 411.30L323.21 410.39M320.40 411.30L322.13 413.69M320.40 411.30L318.67 413.69M320.40 411.30L317.59 410.39" stroke="#111" stroke-width="1.4" fill="none"/>
<line x1="311.20" y1="415.50" x2="328.20" y2="415.50" stroke="#1a1a1a" stroke-width="1"/>
<text x="347.80" y="394.10" font-size="14.2" text-anchor="start" fill="#000" stroke="#000" stroke-width="0.22" font-weight="bold">H</text>
<line x1="369.50" y1="406.30" x2="369.50" y2="544.90" stroke="#1a1a1a" stroke-width="1"/>
<line x1="368.90" y1="544.50" x2="507.70" y2="544.50" stroke="#1a1a1a" stroke-width="1"/>
<line x1="366.40" y1="544.50" x2="369.40" y2="544.50" stroke="#1a1a1a" stroke-width="1"/>
<text x="365.20" y="547.60" font-size="8.8" text-anchor="end" fill="#111" stroke="#111" stroke-width="0.22">0</text>
<line x1="366.40" y1="516.50" x2="369.40" y2="516.50" stroke="#1a1a1a" stroke-width="1"/>
<text x="365.20" y="520.00" font-size="8.8" text-anchor="end" fill="#111" stroke="#111" stroke-width="0.22">1</text>
<line x1="366.40" y1="489.50" x2="369.40" y2="489.50" stroke="#1a1a1a" stroke-width="1"/>
<text x="365.20" y="492.40" font-size="8.8" text-anchor="end" fill="#111" stroke="#111" stroke-width="0.22">2</text>
<line x1="366.40" y1="461.50" x2="369.40" y2="461.50" stroke="#1a1a1a" stroke-width="1"/>
<text x="365.20" y="464.80" font-size="8.8" text-anchor="end" fill="#111" stroke="#111" stroke-width="0.22">3</text>
<line x1="366.40" y1="434.50" x2="369.40" y2="434.50" stroke="#1a1a1a" stroke-width="1"/>
<text x="365.20" y="437.20" font-size="8.8" text-anchor="end" fill="#111" stroke="#111" stroke-width="0.22">4</text>
<line x1="366.40" y1="406.50" x2="369.40" y2="406.50" stroke="#1a1a1a" stroke-width="1"/>
<text x="365.20" y="409.60" font-size="8.8" text-anchor="end" fill="#111" stroke="#111" stroke-width="0.22">5</text>
<text x="355.00" y="470.80" font-size="10.1" text-anchor="middle" fill="#111" stroke="#111" stroke-width="0.22" transform="rotate(-90 355.00 470.80)"># Viral Integrations</text>
<line x1="386.50" y1="544.40" x2="386.50" y2="546.90" stroke="#1a1a1a" stroke-width="1"/>
<text x="386.90" y="557.00" font-size="8.8" text-anchor="middle" fill="#111" stroke="#111" stroke-width="0.22">MND</text>
<line x1="421.50" y1="544.40" x2="421.50" y2="546.90" stroke="#1a1a1a" stroke-width="1"/>
<text x="421.40" y="557.00" font-size="8.8" text-anchor="middle" fill="#111" stroke="#111" stroke-width="0.22">WS1.6</text>
<line x1="456.50" y1="544.40" x2="456.50" y2="546.90" stroke="#1a1a1a" stroke-width="1"/>
<text x="456.00" y="557.00" font-size="8.8" text-anchor="middle" fill="#111" stroke="#111" stroke-width="0.22">MND</text>
<line x1="490.50" y1="544.40" x2="490.50" y2="546.90" stroke="#1a1a1a" stroke-width="1"/>
<text x="490.60" y="557.00" font-size="8.8" text-anchor="middle" fill="#111" stroke="#111" stroke-width="0.22">WS1.6</text>
<line x1="376.20" y1="560.50" x2="436.90" y2="560.50" stroke="#1a1a1a" stroke-width="1"/>
<line x1="445.00" y1="560.50" x2="505.50" y2="560.50" stroke="#1a1a1a" stroke-width="1"/>
<text x="406.50" y="570.60" font-size="8.8" text-anchor="middle" fill="#111" stroke="#111" stroke-width="0.22">Bone Marrow</text>
<text x="475.30" y="570.60" font-size="8.8" text-anchor="middle" fill="#111" stroke="#111" stroke-width="0.22">Spleen</text>
<circle cx="386.90" cy="482.80" r="2.4" fill="#000"/>
<circle cx="386.80" cy="497.70" r="2.4" fill="#000"/>
<circle cx="386.80" cy="508.10" r="2.4" fill="#000"/>
<circle cx="392.90" cy="507.50" r="2.4" fill="#000"/>
<circle cx="386.80" cy="516.10" r="2.4" fill="#000"/>
<circle cx="380.50" cy="521.90" r="2.4" fill="#000"/>
<circle cx="386.80" cy="523.70" r="2.4" fill="#000"/>
<circle cx="392.90" cy="522.90" r="2.4" fill="#000"/>
<circle cx="399.20" cy="521.90" r="2.4" fill="#000"/>
<circle cx="380.50" cy="529.30" r="2.4" fill="#000"/>
<circle cx="386.80" cy="530.70" r="2.4" fill="#000"/>
<circle cx="392.90" cy="527.30" r="2.4" fill="#000"/>
<circle cx="380.50" cy="535.40" r="2.4" fill="#000"/>
<circle cx="399.20" cy="533.60" r="2.4" fill="#000"/>
<circle cx="386.80" cy="538.50" r="2.4" fill="#000"/>
<circle cx="392.90" cy="537.80" r="2.4" fill="#000"/>
<circle cx="415.40" cy="511.20" r="2.4" fill="#000"/>
<circle cx="421.40" cy="509.80" r="2.4" fill="#000"/>
<circle cx="427.60" cy="508.10" r="2.4" fill="#000"/>
<circle cx="421.40" cy="516.30" r="2.4" fill="#000"/>
<circle cx="415.40" cy="519.90" r="2.4" fill="#000"/>
<circle cx="421.40" cy="523.70" r="2.4" fill="#000"/>
<circle cx="427.60" cy="522.20" r="2.4" fill="#000"/>
<circle cx="409.00" cy="528.60" r="2.4" fill="#000"/>
<circle cx="415.40" cy="530.40" r="2.4" fill="#000"/>
<circle cx="427.60" cy="530.30" r="2.4" fill="#000"/>
<circle cx="421.40" cy="533.10" r="2.4" fill="#000"/>
<circle cx="409.00" cy="537.80" r="2.4" fill="#000"/>
<circle cx="415.40" cy="538.70" r="2.4" fill="#000"/>
<circle cx="433.90" cy="538.50" r="2.4" fill="#000"/>
<circle cx="427.60" cy="541.70" r="2.4" fill="#000"/>
<circle cx="421.40" cy="543.50" r="2.4" fill="#000"/>
<circle cx="455.80" cy="415.40" r="2.4" fill="#000"/>
<circle cx="455.80" cy="422.30" r="2.4" fill="#000"/>
<circle cx="449.70" cy="454.60" r="2.4" fill="#000"/>
<circle cx="455.80" cy="454.60" r="2.4" fill="#000"/>
<circle cx="455.80" cy="464.20" r="2.4" fill="#000"/>
<circle cx="462.30" cy="470.00" r="2.4" fill="#000"/>
<circle cx="449.70" cy="473.40" r="2.4" fill="#000"/>
<circle cx="455.80" cy="474.30" r="2.4" fill="#000"/>
<circle cx="462.30" cy="486.20" r="2.4" fill="#000"/>
<circle cx="455.80" cy="492.00" r="2.4" fill="#000"/>
<circle cx="449.70" cy="500.00" r="2.4" fill="#000"/>
<circle cx="462.30" cy="499.50" r="2.4" fill="#000"/>
<circle cx="455.80" cy="503.10" r="2.4" fill="#000"/>
<circle cx="449.70" cy="505.00" r="2.4" fill="#000"/>
<circle cx="455.80" cy="510.00" r="2.4" fill="#000"/>
<circle cx="462.30" cy="510.00" r="2.4" fill="#000"/>
<circle cx="462.30" cy="515.40" r="2.4" fill="#000"/>
<circle cx="449.70" cy="519.20" r="2.4" fill="#000"/>
<circle cx="455.80" cy="519.70" r="2.4" fill="#000"/>
<circle cx="455.80" cy="528.90" r="2.4" fill="#000"/>
<circle cx="490.50" cy="450.00" r="2.4" fill="#000"/>
<circle cx="490.50" cy="464.60" r="2.4" fill="#000"/>
<circle cx="490.50" cy="472.00" r="2.4" fill="#000"/>
<circle cx="484.30" cy="474.90" r="2.4" fill="#000"/>
<circle cx="496.90" cy="473.10" r="2.4" fill="#000"/>
<circle cx="490.50" cy="478.20" r="2.4" fill="#000"/>
<circle cx="484.30" cy="483.50" r="2.4" fill="#000"/>
<circle cx="496.90" cy="486.60" r="2.4" fill="#000"/>
<circle cx="490.50" cy="488.50" r="2.4" fill="#000"/>
<circle cx="478.20" cy="501.60" r="2.4" fill="#000"/>
<circle cx="484.30" cy="504.70" r="2.4" fill="#000"/>
<circle cx="490.50" cy="506.20" r="2.4" fill="#000"/>
<circle cx="496.90" cy="503.40" r="2.4" fill="#000"/>
<circle cx="484.30" cy="512.00" r="2.4" fill="#000"/>
<circle cx="490.50" cy="512.30" r="2.4" fill="#000"/>
<circle cx="496.90" cy="512.30" r="2.4" fill="#000"/>
<circle cx="503.10" cy="511.10" r="2.4" fill="#000"/>
<circle cx="484.30" cy="520.00" r="2.4" fill="#000"/>
<circle cx="490.50" cy="523.80" r="2.4" fill="#000"/>
<circle cx="496.90" cy="524.60" r="2.4" fill="#000"/>
<circle cx="490.50" cy="531.10" r="2.4" fill="#000"/>
<line x1="372.30" y1="521.50" x2="402.30" y2="521.50" stroke="#1a1a1a" stroke-width="1.2"/>
<line x1="406.60" y1="527.50" x2="437.00" y2="527.50" stroke="#1a1a1a" stroke-width="1.2"/>
<line x1="440.80" y1="486.50" x2="471.80" y2="486.50" stroke="#1a1a1a" stroke-width="1.2"/>
<line x1="475.10" y1="496.50" x2="506.50" y2="496.50" stroke="#1a1a1a" stroke-width="1.2"/>
<path d="M413.50 399.80L413.50 397.10M413.50 399.80L416.07 398.97M413.50 399.80L415.09 401.98M413.50 399.80L411.91 401.98M413.50 399.80L410.93 398.97" stroke="#111" stroke-width="1.4" fill="none"/>
<path d="M420.50 399.80L420.50 397.10M420.50 399.80L423.07 398.97M420.50 399.80L422.09 401.98M420.50 399.80L418.91 401.98M420.50 399.80L417.93 398.97" stroke="#111" stroke-width="1.4" fill="none"/>
<path d="M427.50 399.80L427.50 397.10M427.50 399.80L430.07 398.97M427.50 399.80L429.09 401.98M427.50 399.80L425.91 401.98M427.50 399.80L424.93 398.97" stroke="#111" stroke-width="1.4" fill="none"/>
<line x1="385.80" y1="405.50" x2="455.80" y2="405.50" stroke="#1a1a1a" stroke-width="1"/>
<path d="M448.90 387.30L448.90 384.60M448.90 387.30L451.47 386.47M448.90 387.30L450.49 389.48M448.90 387.30L447.31 389.48M448.90 387.30L446.33 386.47" stroke="#111" stroke-width="1.4" fill="none"/>
<path d="M455.90 387.30L455.90 384.60M455.90 387.30L458.47 386.47M455.90 387.30L457.49 389.48M455.90 387.30L454.31 389.48M455.90 387.30L453.33 386.47" stroke="#111" stroke-width="1.4" fill="none"/>
<path d="M462.90 387.30L462.90 384.60M462.90 387.30L465.47 386.47M462.90 387.30L464.49 389.48M462.90 387.30L461.31 389.48M462.90 387.30L460.33 386.47" stroke="#111" stroke-width="1.4" fill="none"/>
<line x1="421.10" y1="392.50" x2="490.80" y2="392.50" stroke="#1a1a1a" stroke-width="1"/>
</svg>
</body></html>
